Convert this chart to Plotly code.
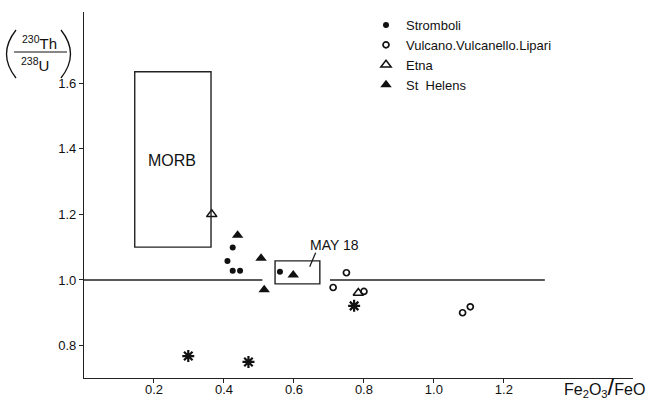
import plotly.graph_objects as go

# (230Th/238U) activity ratio versus Fe2O3/FeO
stromboli_x = [0.425, 0.410, 0.425, 0.446, 0.560]
stromboli_y = [1.099, 1.058, 1.028, 1.028, 1.025]

vulcano_x = [0.750, 0.712, 0.800, 1.082, 1.104]
vulcano_y = [1.022, 0.977, 0.965, 0.900, 0.918]

etna_x = [0.365, 0.784]
etna_y = [1.200, 0.960]

sthelens_x = [0.439, 0.506, 0.515, 0.598]
sthelens_y = [1.136, 1.066, 0.970, 1.015]

other_x = [0.298, 0.470, 0.772]
other_y = [0.768, 0.750, 0.921]

# equilibrium line (ratio = 1.0), drawn in two pieces around the MAY 18 box
equiline_value = 1.0
equiline_pieces = [(0.0, 0.51), (0.703, 1.317)]

# fields
morb_box = dict(x0=0.145, x1=0.363, y0=1.10, y1=1.635)
may18_box = dict(x0=0.546, x1=0.674, y0=0.988, y1=1.058)

x_ticks = [0.2, 0.4, 0.6, 0.8, 1.0, 1.2]
x_ticklabels = ["0.2", "0.4", "0.6", "0.8", "1.0", "1.2"]
y_ticks = [0.8, 1.0, 1.2, 1.4, 1.6]
y_ticklabels = ["0.8", "1.0", "1.2", "1.4", "1.6"]

W, H = 651, 405
ML, MR, MT, MB = 84, 18, 12, 27
PW, PH = W - ML - MR, H - MT - MB

FONT = "Liberation Sans, Arial, sans-serif"
INK = "#111111"


def px(xp):
    return (xp - ML) / PW


def py(yp):
    return (H - MB - yp) / PH


fig = go.Figure()

fig.add_trace(go.Scatter(
    x=stromboli_x, y=stromboli_y, mode="markers", name="Stromboli",
    marker=dict(symbol="circle", size=6, color=INK)))
fig.add_trace(go.Scatter(
    x=vulcano_x, y=vulcano_y, mode="markers", name="Vulcano.Vulcanello.Lipari",
    marker=dict(symbol="circle-open", size=6, color=INK, line=dict(width=1.7, color=INK))))
fig.add_trace(go.Scatter(
    x=etna_x, y=etna_y, mode="markers", name="Etna",
    marker=dict(symbol="triangle-up-open", size=9, color=INK, line=dict(width=1.5, color=INK))))
fig.add_trace(go.Scatter(
    x=sthelens_x, y=sthelens_y, mode="markers", name="St  Helens",
    marker=dict(symbol="triangle-up", size=10, color=INK)))
fig.add_trace(go.Scatter(
    x=other_x, y=other_y, mode="markers", showlegend=False,
    marker=dict(symbol="asterisk", size=10, color=INK, line=dict(width=2.2, color=INK))))

shapes = []
for a, b in equiline_pieces:
    shapes.append(dict(type="line", xref="x", yref="y", x0=a, x1=b,
                       y0=equiline_value, y1=equiline_value,
                       line=dict(color="#222222", width=1.6)))
for box in (morb_box, may18_box):
    shapes.append(dict(type="rect", xref="x", yref="y", **box,
                       line=dict(color="#222222", width=1.4)))
# leader from the MAY 18 label into its box
shapes.append(dict(type="line", xref="x", yref="y", x0=0.662, y0=1.083,
                   x1=0.645, y1=1.040, line=dict(color=INK, width=1.2)))


# y-axis title: (230Th / 238U) with drawn parentheses and fraction bar
def paren(x_top, x_mid, y_top, y_bot):
    return (f"M {px(x_top)},{py(y_top)} Q {px(x_mid)},{py((y_top + y_bot) / 2)} "
            f"{px(x_top)},{py(y_bot)}")


shapes.append(dict(type="path", xref="paper", yref="paper",
                   path=paren(16, -3, 30, 78), line=dict(color=INK, width=1.3)))
shapes.append(dict(type="path", xref="paper", yref="paper",
                   path=paren(61, 80, 30, 78), line=dict(color=INK, width=1.3)))
shapes.append(dict(type="line", xref="paper", yref="paper",
                   x0=px(14), x1=px(67), y0=py(52), y1=py(52),
                   line=dict(color=INK, width=1.1)))


def label(text, xp, yp, size):
    return dict(text=text, x=px(xp), y=py(yp), xref="paper", yref="paper",
                xanchor="center", yanchor="middle", showarrow=False,
                font=dict(size=size, family=FONT, color=INK))


annotations = [
    dict(text="MORB", x=0.251, y=1.364, xref="x", yref="y", showarrow=False,
         xanchor="center", yanchor="middle",
         font=dict(size=16, family=FONT, color=INK)),
    dict(text="MAY 18", x=0.716, y=1.106, xref="x", yref="y", showarrow=False,
         xanchor="center", yanchor="middle",
         font=dict(size=14, family=FONT, color=INK)),
    label("<sup>230</sup>Th", 39, 43, 15),
    label("<sup>238</sup>U", 35, 64, 15),
    label("Fe<sub>2</sub>O<sub>3</sub><span style='font-size:24px'>/</span>FeO",
          604, 386, 16),
]

axis_common = dict(showline=True, linecolor="#222222", linewidth=1.2,
                   ticks="outside", ticklen=4, tickwidth=1, tickcolor="#222222",
                   showgrid=False, zeroline=False, automargin=False,
                   tickfont=dict(size=13, family=FONT, color=INK))

fig.update_layout(
    width=W, height=H,
    margin=dict(l=ML, r=MR, t=MT, b=MB, pad=0, autoexpand=False),
    paper_bgcolor="white", plot_bgcolor="white",
    xaxis=dict(range=[0, 1.569], tickvals=x_ticks, ticktext=x_ticklabels,
               ticklabelstandoff=-5, **axis_common),
    yaxis=dict(range=[0.701, 1.817], tickvals=y_ticks, ticktext=y_ticklabels,
               **axis_common),
    shapes=shapes,
    annotations=annotations,
    legend=dict(x=px(366), y=py(10), xanchor="left", yanchor="top",
                font=dict(size=13, family=FONT, color=INK),
                bgcolor="rgba(0,0,0,0)", itemwidth=30, tracegroupgap=0),
    showlegend=True,
)

fig.write_html("out.html")
